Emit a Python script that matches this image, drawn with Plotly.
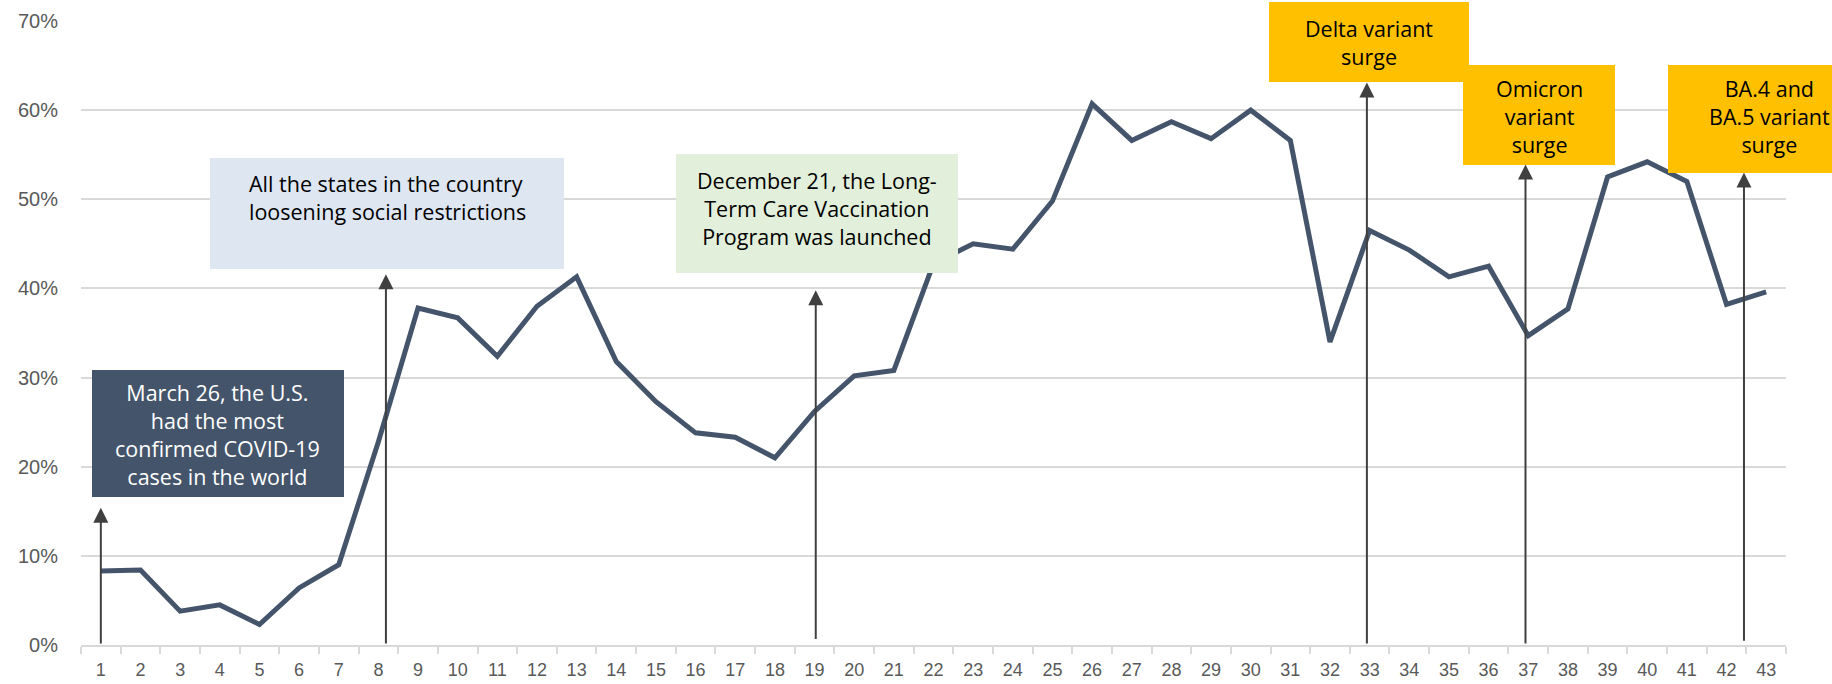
import plotly.graph_objects as go

# ---- data ----
weeks = list(range(1, 44))
share = [0.083, 0.084, 0.038, 0.045, 0.023, 0.064, 0.090, 0.228, 0.378, 0.367,
         0.324, 0.380, 0.413, 0.318, 0.273, 0.238, 0.233, 0.210, 0.262, 0.302,
         0.308, 0.428, 0.450, 0.444, 0.498, 0.607, 0.566, 0.587, 0.568, 0.600,
         0.566, 0.340, 0.465, 0.443, 0.413, 0.425, 0.347, 0.377, 0.525, 0.542,
         0.520, 0.382, 0.396]

event_text = [
    "March 26, the U.S.<br>had the most<br>confirmed COVID-19<br>cases in the world",
    "All the states in the country<br>loosening social restrictions",
    "December 21, the Long-<br>Term Care Vaccination<br>Program was launched",
    "Delta variant<br>surge",
    "Omicron<br>variant<br>surge",
    "BA.4 and<br>BA.5 variant<br>surge",
]
event_x = [1.0, 8.19, 19.03, 32.93, 36.93, 42.44]
event_tip = [0.154, 0.416, 0.398, 0.631, 0.539, 0.530]
event_base = [0.0, 0.0, 0.005, 0.0, 0.0, 0.003]

box_x0 = [0.78, 3.76, 15.51, 30.46, 35.36, 40.51]
box_x1 = [7.13, 12.68, 22.61, 35.51, 39.20, 45.66]
box_y0 = [0.166, 0.421, 0.417, 0.631, 0.539, 0.530]
box_y1 = [0.309, 0.546, 0.550, 0.721, 0.651, 0.651]
text_y = [0.236, 0.502, 0.490, 0.676, 0.593, 0.593]
box_color = ["#44546A", "#DEE6F2", "#E2EFDA", "#FFC000", "#FFC000", "#FFC000"]
text_color = ["#FFFFFF", "#000000", "#000000", "#000000", "#000000", "#000000"]
text_align = ["center", "left", "center", "center", "center", "center"]

# ---- layout geometry ----
W, H = 1832, 684
ML, MR, MT, MB = 81, 46, 21, 39
XR = (0.5, 43.5)
YR = (0.0, 0.7)
px_x = (W - ML - MR) / (XR[1] - XR[0])
px_y = (H - MT - MB) / (YR[1] - YR[0])

fig = go.Figure()
fig.add_trace(go.Scatter(
    x=weeks, y=share, mode="lines",
    line=dict(color="#44546A", width=5),
    hoverinfo="skip", showlegend=False,
))

annotations = []
# arrows
for xv, tip, base in zip(event_x, event_tip, event_base):
    annotations.append(dict(
        x=xv, y=tip, ax=xv, ay=base, xref="x", yref="y", axref="x", ayref="y",
        text="", showarrow=True, arrowhead=2, arrowsize=1.5, arrowwidth=2,
        arrowcolor="#404040", standoff=0,
    ))
# boxes
for x0, x1, y0, y1, col in zip(box_x0, box_x1, box_y0, box_y1, box_color):
    annotations.append(dict(
        x=(x0 + x1) / 2, y=(y0 + y1) / 2, xref="x", yref="y",
        xanchor="center", yanchor="middle", text=" ", showarrow=False,
        width=(x1 - x0) * px_x, height=(y1 - y0) * px_y,
        bgcolor=col, borderpad=0, borderwidth=0,
    ))
# texts
for t, x0, x1, ty, tc, al in zip(event_text, box_x0, box_x1, text_y, text_color, text_align):
    annotations.append(dict(
        x=(x0 + x1) / 2, y=ty, xref="x", yref="y",
        xanchor="center", yanchor="middle", text=t, showarrow=False,
        align=al, font=dict(family="Open Sans, sans-serif", size=21.5, color=tc),
    ))

tick_font = dict(family="Liberation Sans, Arial, sans-serif", color="#595959")

fig.update_layout(
    width=W, height=H,
    margin=dict(l=ML, r=MR, t=MT, b=MB, autoexpand=False),
    paper_bgcolor="white", plot_bgcolor="white",
    annotations=annotations,
    xaxis=dict(
        range=list(XR), tickmode="array", tickvals=weeks,
        ticktext=[str(w) for w in weeks], ticks="", showgrid=False,
        showline=True, linecolor="#D9D9D9", linewidth=1.5,
        tickfont=dict(size=18, **tick_font), ticklabelstandoff=8,
        minor=dict(tick0=0.5, dtick=1, ticks="outside", ticklen=7,
                   tickcolor="#D9D9D9", tickwidth=1.5, showgrid=False),
        zeroline=False, fixedrange=True, automargin=False,
    ),
    yaxis=dict(
        range=list(YR), dtick=0.1, tick0=0, tickformat=".0%",
        showgrid=True, gridcolor="#D9D9D9", gridwidth=1.5,
        zeroline=False, showline=False, ticks="",
        tickfont=dict(size=20, **tick_font), ticklabelstandoff=22,
        fixedrange=True, automargin=False,
    ),
)

fig.write_html(
    "out.html",
    config={"displayModeBar": False},
    post_script="document.body.style.margin='0';document.body.style.overflow='hidden';",
)
